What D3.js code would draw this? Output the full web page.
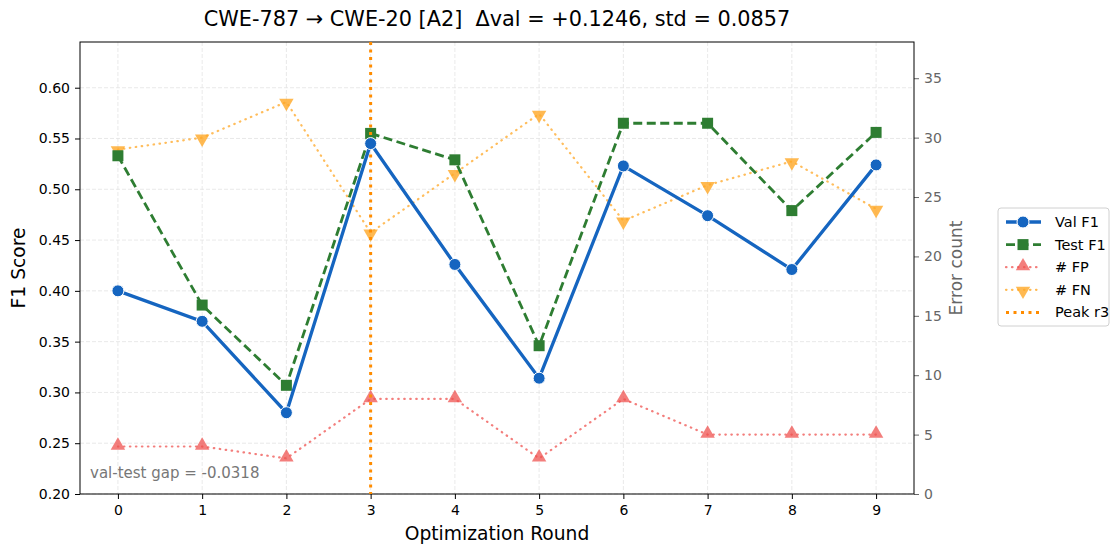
<!DOCTYPE html>
<html><head><meta charset="utf-8">
<script src="https://cdn.jsdelivr.net/npm/d3@7/dist/d3.min.js"></script>
<style>body{margin:0;background:#fff}svg{display:block;font-family:"DejaVu Sans",sans-serif}text{white-space:pre}</style>
</head><body><svg id="c" width="1119" height="553"></svg>
<script>
const rounds = [0,1,2,3,4,5,6,7,8,9];
const valF1 = [0.400,0.370,0.280,0.545,0.426,0.314,0.523,0.474,0.421,0.524];
const testF1 = [0.533,0.386,0.307,0.555,0.529,0.346,0.565,0.565,0.479,0.556];
const fpCount = [4,4,3,8,8,3,8,5,5,5];
const fnCount = [29,30,33,22,27,32,23,26,28,24];
const leftTicks = [0.20,0.25,0.30,0.35,0.40,0.45,0.50,0.55,0.60];
const rightTicks = [0,5,10,15,20,25,30,35];
const peakRound = 3;
const titleText = "CWE-787 → CWE-20 [A2]  Δval = +0.1246, std = 0.0857";
const gapText = "val-test gap = -0.0318";

const svg = d3.select("#c");
const L=80,R=914,T=42,B=494;
const x = d3.scaleLinear().domain([-0.45,9.45]).range([L,R]);
const y = d3.scaleLinear().domain([0.2,0.645]).range([B,T]);
const y2 = d3.scaleLinear().domain([0,38.05]).range([B,T]);

// grid
const g = svg.append("g");
g.selectAll(".gx").data(rounds).join("line").attr("x1",d=>x(d)).attr("x2",d=>x(d)).attr("y1",T).attr("y2",B)
 .attr("stroke","#e3e3e3").attr("stroke-width",0.8).attr("stroke-dasharray","4,2");
g.selectAll(".gy").data(leftTicks).join("line").attr("y1",d=>y(d)).attr("y2",d=>y(d)).attr("x1",L).attr("x2",R)
 .attr("stroke","#e3e3e3").attr("stroke-width",0.8).attr("stroke-dasharray","4,2");

// axes
const ax = svg.append("g").attr("transform",`translate(0,${B})`).call(d3.axisBottom(x).tickValues(rounds).tickFormat(d3.format("d")).tickSizeOuter(0).tickSize(5).tickPadding(6));
const ay = svg.append("g").attr("transform",`translate(${L},0)`).call(d3.axisLeft(y).tickValues(leftTicks).tickFormat(d3.format(".2f")).tickSizeOuter(0).tickSize(5).tickPadding(5));
const ay2 = svg.append("g").attr("transform",`translate(${R},0)`).call(d3.axisRight(y2).tickValues(rightTicks).tickFormat(d3.format("d")).tickSizeOuter(0).tickSize(5).tickPadding(5));
[ax,ay].forEach(a=>{a.selectAll("text").attr("font-size",14).attr("fill","#000").attr("font-family","DejaVu Sans");a.selectAll("line").attr("stroke","#000");a.select(".domain").remove();});
ay2.selectAll("text").attr("font-size",14).attr("fill","#666").attr("font-family","DejaVu Sans");
ay2.selectAll("line").attr("stroke","#666");ay2.select(".domain").remove();
// spines
svg.append("rect").attr("x",L).attr("y",T).attr("width",R-L).attr("height",B-T).attr("fill","none").attr("stroke","#000").attr("stroke-width",1);

// FP / FN
const lineE = d3.line().x((d,i)=>x(rounds[i])).y(d=>y2(d));
svg.append("path").datum(fpCount).attr("d",lineE).attr("fill","none").attr("stroke","#ef5350").attr("stroke-opacity",0.75).attr("stroke-width",2.2).attr("stroke-dasharray","0.5,5.5").attr("stroke-linecap","round");
const tri = d3.symbol().type(d3.symbolTriangle).size(90);
svg.selectAll(".fp").data(fpCount).join("path").attr("d",tri).attr("transform",(d,i)=>`translate(${x(rounds[i])},${y2(d)-1})`).attr("fill","#ef5350").attr("fill-opacity",0.75);
svg.append("path").datum(fnCount).attr("d",lineE).attr("fill","none").attr("stroke","#ffa726").attr("stroke-opacity",0.75).attr("stroke-width",2.2).attr("stroke-dasharray","0.5,5.5").attr("stroke-linecap","round");
svg.selectAll(".fn").data(fnCount).join("path").attr("d",tri).attr("transform",(d,i)=>`translate(${x(rounds[i])},${y2(d)+1}) rotate(180)`).attr("fill","#ffa726").attr("fill-opacity",0.8);

// Test F1
const lineF = d3.line().x((d,i)=>x(rounds[i])).y(d=>y(d));
svg.append("path").datum(testF1).attr("d",lineF).attr("fill","none").attr("stroke","#2e7d32").attr("stroke-width",2.8).attr("stroke-dasharray","9,4.5");
svg.selectAll(".ts").data(testF1).join("rect").attr("x",(d,i)=>x(rounds[i])-5.5).attr("y",d=>y(d)-5.5).attr("width",11).attr("height",11).attr("fill","#2e7d32");

// peak line
svg.append("line").attr("x1",x(peakRound)).attr("x2",x(peakRound)).attr("y1",T).attr("y2",B).attr("stroke","#ff8c00").attr("stroke-width",3).attr("stroke-dasharray","3,4.5");

// Val F1
svg.append("path").datum(valF1).attr("d",lineF).attr("fill","none").attr("stroke","#1565c0").attr("stroke-width",3.3);
svg.selectAll(".vc").data(valF1).join("circle").attr("cx",(d,i)=>x(rounds[i])).attr("cy",d=>y(d)).attr("r",6).attr("fill","#1565c0").attr("stroke","#fff").attr("stroke-width",1);

// texts
svg.append("text").attr("x",(L+R)/2).attr("y",26).attr("text-anchor","middle").attr("font-size",20.8).text(titleText);
svg.append("text").attr("x",(L+R)/2).attr("y",540).attr("text-anchor","middle").attr("font-size",18.7).text("Optimization Round");
svg.append("text").attr("transform",`translate(25,${(T+B)/2}) rotate(-90)`).attr("text-anchor","middle").attr("font-size",18.7).text("F1 Score");
svg.append("text").attr("transform",`translate(962,${(T+B)/2}) rotate(-90)`).attr("text-anchor","middle").attr("font-size",17).attr("fill","#666").text("Error count");
svg.append("text").attr("x",90).attr("y",478).attr("font-size",15).attr("fill","#777").text(gapText);

// legend
const lg = svg.append("g").attr("transform","translate(998,208)");
lg.append("rect").attr("width",111).attr("height",118).attr("rx",3).attr("fill","#fff").attr("stroke","#d0d0d0").attr("stroke-width",1);
const items = [
 {label:"Val F1",color:"#1565c0",w:3.3,dash:null,mk:"circle"},
 {label:"Test F1",color:"#2e7d32",w:2.8,dash:"9,4.5",mk:"square"},
 {label:"# FP",color:"#ef5350",w:2.2,dash:"0.5,5.5",mk:"up",op:0.75},
 {label:"# FN",color:"#ffa726",w:2.2,dash:"0.5,5.5",mk:"down",op:0.8},
 {label:"Peak r3",color:"#ff8c00",w:3,dash:"3,4.5",mk:null}
];
items.forEach((it,i)=>{
  const yy = 14 + i*22.6;
  const row = lg.append("g").attr("transform",`translate(0,${yy})`);
  row.append("line").attr("x1",8).attr("x2",43).attr("stroke",it.color).attr("stroke-width",it.w).attr("stroke-dasharray",it.dash).attr("stroke-opacity",it.op||1).attr("stroke-linecap",it.mk==="up"||it.mk==="down"?"round":"butt");
  if(it.mk==="circle") row.append("circle").attr("cx",25).attr("r",6).attr("fill",it.color).attr("stroke","#fff");
  if(it.mk==="square") row.append("rect").attr("x",19.5).attr("y",-5.5).attr("width",11).attr("height",11).attr("fill",it.color);
  if(it.mk==="up") row.append("path").attr("d",tri).attr("transform","translate(25,-1)").attr("fill",it.color).attr("fill-opacity",it.op);
  if(it.mk==="down") row.append("path").attr("d",tri).attr("transform","translate(25,1) rotate(180)").attr("fill",it.color).attr("fill-opacity",it.op);
  row.append("text").attr("x",57).attr("y",5).attr("font-size",14.5).text(it.label);
});
</script></body></html>
